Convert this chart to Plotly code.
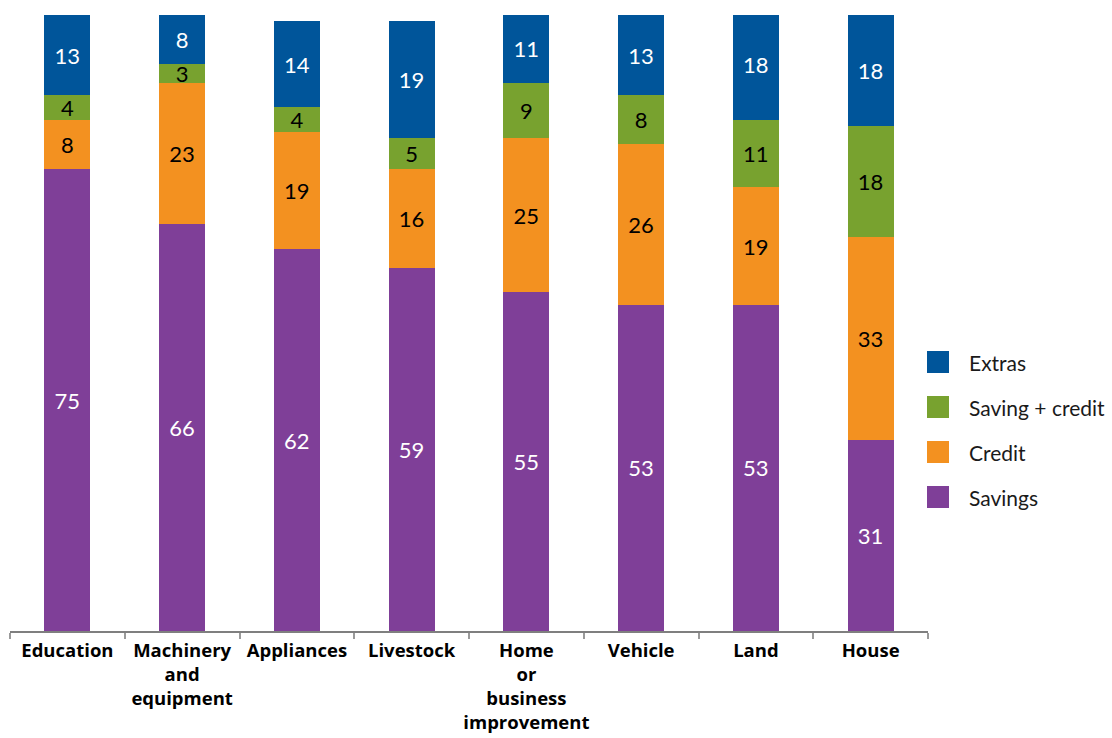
import plotly.graph_objects as go

# Purchase categories and the share (%) of each financing source
categories = ["Education", "Machinery<br>and<br>equipment", "Appliances", "Livestock",
              "Home<br>or<br>business<br>improvement", "Vehicle", "Land", "House"]
savings = [75, 66, 62, 59, 55, 53, 53, 31]
credit = [8, 23, 19, 16, 25, 26, 19, 33]
saving_credit = [4, 3, 4, 5, 9, 8, 11, 18]
extras = [13, 8, 14, 19, 11, 13, 18, 18]

series = [
    ("Savings", savings, "#7F3F98", "white"),
    ("Credit", credit, "#F39120", "black"),
    ("Saving + credit", saving_credit, "#78A22F", "black"),
    ("Extras", extras, "#00559A", "white"),
]

FONT = "Lato"
W, H = 1112, 738
ML, MR, MT, MB = 10, 184, 15, 107
PW, PH = W - ML - MR, H - MT - MB

fig = go.Figure()
for name, vals, color, tcolor in series:
    fig.add_trace(go.Bar(
        x=categories, y=vals, name=name,
        marker=dict(color=color, line=dict(width=0)),
        text=vals, textposition="inside", insidetextanchor="middle",
        textangle=0, constraintext="none",
        textfont=dict(family=FONT, size=22, color=tcolor),
        showlegend=False,
    ))


def px_x(px):
    return (px - ML) / PW


def px_y(py):
    return (H - MB - py) / PH


# Legend drawn as square swatches with labels, top entry first
shapes, annotations = [], []
for i, (name, vals, color, tcolor) in enumerate(reversed(series)):
    cy = 362 + 45 * i
    shapes.append(dict(type="rect", xref="paper", yref="paper",
                       x0=px_x(927), x1=px_x(949), y0=px_y(cy + 11), y1=px_y(cy - 11),
                       fillcolor=color, line=dict(width=0)))
    annotations.append(dict(xref="paper", yref="paper", x=px_x(967), y=px_y(cy),
                            xanchor="left", yanchor="middle", showarrow=False,
                            text=name, font=dict(family=FONT, size=21, color="#1a1a1a")))

fig.update_layout(
    barmode="stack", bargap=0.6,
    width=W, height=H,
    margin=dict(l=ML, r=MR, t=MT, b=MB),
    plot_bgcolor="white", paper_bgcolor="white",
    shapes=shapes, annotations=annotations,
    xaxis=dict(showline=True, linecolor="#7f7f7f", linewidth=2,
               ticks="outside", tickson="boundaries", ticklen=6, tickwidth=2,
               tickcolor="#9a9a9a", tickangle=0, automargin=False,
               ticklabelstandoff=2,
               tickfont=dict(family="Open Sans", size=18.5, color="black", weight="bold"),
               showgrid=False),
    yaxis=dict(range=[0, 100], visible=False, showgrid=False),
)

fig.write_html("out.html")
